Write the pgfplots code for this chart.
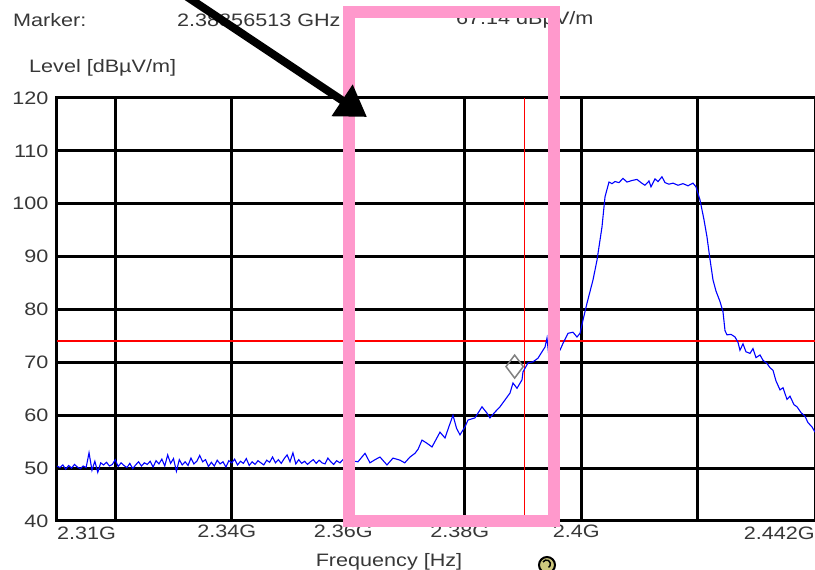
\documentclass[border=0pt]{standalone}
\usepackage{fontspec}
\setmainfont{Liberation Sans}[FakeStretch=1.2]
\usepackage{pgfplots}
\pgfplotsset{compat=1.18}
\usetikzlibrary{arrows.meta}
\definecolor{pinkbox}{RGB}{255,153,204}
\definecolor{txtgray}{RGB}{55,55,55}
\definecolor{knob}{RGB}{205,200,125}
\begin{document}
\begin{tikzpicture}[font=\fontsize{18}{21}\selectfont]
\clip (-57pt,-49pt) rectangle (758pt,521pt);
\begin{axis}[
  at={(0pt,0pt)}, anchor=south west,
  scale only axis, width=758pt, height=423pt,
  xmin=2.31, xmax=2.44013, ymin=40, ymax=120,
  xtick={2.32,2.34,2.36,2.38,2.40,2.42},
  xticklabels={,2.34G,2.36G,2.38G,2.4G,},
  ytick={40,50,...,120},
  grid=major,
  major grid style={black, line width=3pt},
  axis line style={black, line width=3pt},
  major tick length=0pt,
  tick label style={text=txtgray, font=\fontsize{18}{21}\selectfont},
  xticklabel style={xshift=-5pt},
  yticklabel style={xshift=-5pt},
  /pgf/number format/assume math mode=true,
  clip=true,
]
\addplot[red, line width=2pt] coordinates {(2.31,74) (2.44013,74)};
\addplot[red, line width=1.2pt] coordinates {(2.3902,40) (2.3902,120)};
\addplot[blue, line width=1.1pt] coordinates {
(2.3100,50.4) (2.3105,50.1) (2.3110,50.6) (2.3115,49.8) (2.3120,50.5) (2.3125,50.0)
(2.3130,50.7) (2.3135,50.2) (2.3140,49.9) (2.3145,50.4) (2.3150,50.1) (2.3155,52.9)
(2.3160,49.6) (2.3165,51.3) (2.3170,49.2) (2.3175,51.0) (2.3180,50.6) (2.3185,51.1)
(2.3190,50.4) (2.3195,50.7) (2.3200,51.6) (2.3205,50.3) (2.3210,51.0) (2.3215,50.5)
(2.3220,50.1) (2.3225,50.9) (2.3230,49.9) (2.3235,50.6) (2.3240,51.2) (2.3245,50.4)
(2.3250,51.0) (2.3255,50.7) (2.3260,51.3) (2.3265,50.2) (2.3270,51.4) (2.3275,50.8)
(2.3280,51.7) (2.3285,50.4) (2.3290,52.5) (2.3295,50.9) (2.3300,51.8) (2.3305,49.4)
(2.3310,51.6) (2.3315,50.6) (2.3320,51.2) (2.3325,50.5) (2.3330,51.9) (2.3335,50.8)
(2.3340,51.3) (2.3345,52.4) (2.3350,51.2) (2.3355,51.6) (2.3360,50.3) (2.3365,51.1)
(2.3370,50.4) (2.3375,51.5) (2.3380,50.8) (2.3385,51.2) (2.3390,50.2) (2.3395,51.4)
(2.3400,51.0) (2.3405,51.7) (2.3410,50.6) (2.3415,51.3) (2.3420,50.9) (2.3425,51.8)
(2.3430,50.5) (2.3435,51.2) (2.3440,50.7) (2.3445,51.4) (2.3450,51.0) (2.3455,50.6)
(2.3460,51.5) (2.3465,51.1) (2.3470,52.1) (2.3475,51.0) (2.3480,51.6) (2.3485,50.9)
(2.3490,51.8) (2.3495,52.5) (2.3500,51.2) (2.3505,52.9) (2.3510,50.8) (2.3515,51.6)
(2.3520,50.9) (2.3525,51.3) (2.3530,50.7) (2.3535,51.2) (2.3540,51.6) (2.3545,50.9)
(2.3550,51.5) (2.3555,51.0) (2.3560,50.8) (2.3565,51.9) (2.3570,51.2) (2.3575,50.7)
(2.3580,51.4) (2.35858,51.0) (2.35944,52.0) (2.3605,51.4) (2.36167,51.2) (2.36288,52.8)
(2.36373,51.0) (2.3646,51.6) (2.36545,52.1) (2.36665,50.6) (2.36768,51.9) (2.36888,51.5)
(2.3697,51.0) (2.37060,52.1) (2.37146,52.8) (2.3720,53.6) (2.37266,55.3) (2.37352,54.7)
(2.37438,54.0) (2.37575,56.8) (2.37661,55.7) (2.3773,57.9) (2.37798,60.0) (2.3786,57.5)
(2.37918,56.3) (2.38004,57.8) (2.38056,59.1) (2.38176,59.5) (2.38296,61.6) (2.38382,60.4)
(2.38433,59.5) (2.38519,60.6) (2.38605,61.6) (2.38691,62.9) (2.38777,64.2) (2.38828,66.1)
(2.38897,65.1) (2.38983,66.7) (2.39000,68.2) (2.39086,69.9) (2.39172,70.1) (2.39258,70.8)
(2.39326,72.0) (2.39378,72.9) (2.39412,74.6) (2.39446,71.0) (2.39549,71.5) (2.39635,72.3)
(2.39687,73.6) (2.39773,75.5) (2.39858,75.7) (2.39927,74.8) (2.39979,75.5) (2.40030,78.0)
(2.40099,81.2) (2.40202,85.6) (2.40270,89.3) (2.40356,95.6) (2.40408,101.3) (2.40476,104.1)
(2.40528,103.8) (2.40579,104.2) (2.40648,104.0) (2.40717,104.8) (2.40785,104.1) (2.40871,104.4)
(2.40957,104.6) (2.41026,104.0) (2.41094,103.5) (2.41163,104.3) (2.41197,103.2) (2.41266,104.7)
(2.41318,104.2) (2.41386,105.1) (2.41438,104.0) (2.41506,103.7) (2.41575,103.9) (2.41661,103.5)
(2.41747,103.8) (2.41833,103.4) (2.41918,103.9) (2.41970,103.2) (2.42039,100.7) (2.42107,97.0)
(2.42159,93.7) (2.42210,89.5) (2.42262,85.6) (2.42313,83.5) (2.42382,81.5) (2.42433,79.6)
(2.42468,76.0) (2.42502,75.2) (2.42571,75.3) (2.42640,74.8) (2.42691,73.8) (2.42725,72.3)
(2.42777,73.5) (2.42828,72.0) (2.42897,71.7) (2.42948,72.6) (2.43000,70.9) (2.43069,71.4)
(2.43120,70.4) (2.43189,69.8) (2.43240,69.0) (2.43292,68.5) (2.43343,66.5) (2.43412,64.8)
(2.43464,65.2) (2.43532,63.0) (2.43584,63.6) (2.43652,62.0) (2.43704,61.6) (2.43773,60.5)
(2.43841,59.8) (2.43893,58.6) (2.43961,57.8) (2.44013,56.8)
};
\addplot[only marks, mark=diamond, mark size=11.5pt,
  mark options={draw=gray, fill=white, line width=1.5pt}] coordinates {(2.38857,69.2)};
\end{axis}
\begin{scope}[every node/.style={inner sep=0pt, text=txtgray}]
\node[anchor=north west] at (0pt,-6pt) {2.31G};
\node[anchor=north east] at (758pt,-6pt) {2.442G};
\node[anchor=base] at (332pt,-45.5pt) {Frequency [Hz]};
\node[anchor=west] at (-28pt,453pt) {Level [dBµV/m]};
\node[anchor=west] at (-44pt,501pt) {Marker:};
\node[anchor=west] at (120pt,501pt) {2.38856513 GHz};
\node[anchor=west] at (399pt,501pt) {67.14 dBµV/m};
\end{scope}
\draw[pinkbox, line width=12pt] (292pt,509pt) rectangle (497pt,0pt);
\draw[black, line width=8pt, -{Triangle[length=30pt,width=36pt]}] (90pt,551pt) -- (310pt,404pt);
\draw[black, line width=2pt, fill=knob] (490pt,-44pt) circle (8pt);
\draw[black, line width=1.5pt] (486pt,-41pt) arc (150:-60:4pt);
\end{tikzpicture}
\end{document}
